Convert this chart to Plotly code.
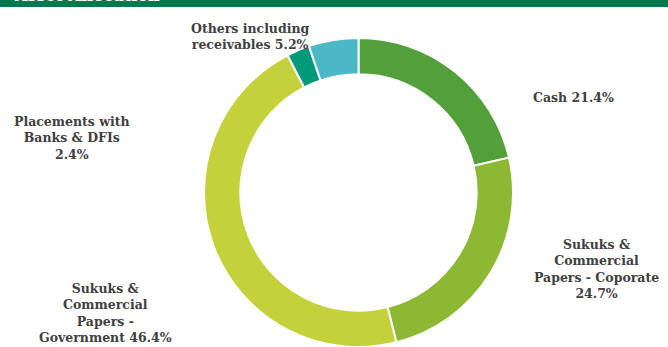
import plotly.graph_objects as go

labels = ["Cash", "Sukuks & Commercial Papers - Coporate", "Sukuks & Commercial Papers - Government",
          "Placements with Banks & DFIs", "Others including receivables"]
values = [21.4, 24.7, 46.4, 2.4, 5.2]
colors = ["#53A03A", "#8CB834", "#C5D13B", "#00997A", "#4CB7C7"]

label_texts = ["Cash 21.4%",
               "Sukuks &<br>Commercial<br>Papers - Coporate<br>24.7%",
               "Sukuks &<br>Commercial<br>Papers -<br>Government 46.4%",
               "Placements with<br>Banks & DFIs<br>2.4%",
               "Others including<br>receivables 5.2%"]
# annotation positions in paper coords (x, y of centre)
label_pos = [(573, 97), (596, 269), (105, 313), (72, 138), (250, 36)]

W, H = 668, 347
FONT = "DejaVu Serif"

fig = go.Figure(go.Pie(
    labels=labels, values=values, hole=0.765, sort=False, direction="clockwise",
    rotation=0, textinfo="none", hoverinfo="label+percent",
    marker=dict(colors=colors, line=dict(color="white", width=2)),
    domain=dict(x=[204 / W, 513 / W], y=[0, 309 / H]),
    showlegend=False,
))

annotations = []
for t, (px, py) in zip(label_texts, label_pos):
    annotations.append(dict(
        text=t, x=px / W, y=1 - py / H, xref="paper", yref="paper",
        xanchor="center", yanchor="middle", showarrow=False, align="center",
        font=dict(family=FONT, size=12.5, color="#404040", weight="bold"),
    ))
annotations.append(dict(
    text="Asset Allocation", x=12 / W, y=1 - 7 / H, xref="paper", yref="paper",
    xanchor="left", yanchor="bottom", showarrow=False,
    font=dict(family=FONT, size=16, color="white", weight="bold"),
))

fig.update_layout(
    width=W, height=H, margin=dict(l=0, r=0, t=0, b=0),
    paper_bgcolor="white", plot_bgcolor="white",
    annotations=annotations,
    shapes=[dict(type="rect", xref="paper", yref="paper", x0=0, x1=1,
                 y0=1 - 7 / H, y1=1, fillcolor="#007A4A", line=dict(width=0), layer="below")],
)

fig.write_html("out.html")
